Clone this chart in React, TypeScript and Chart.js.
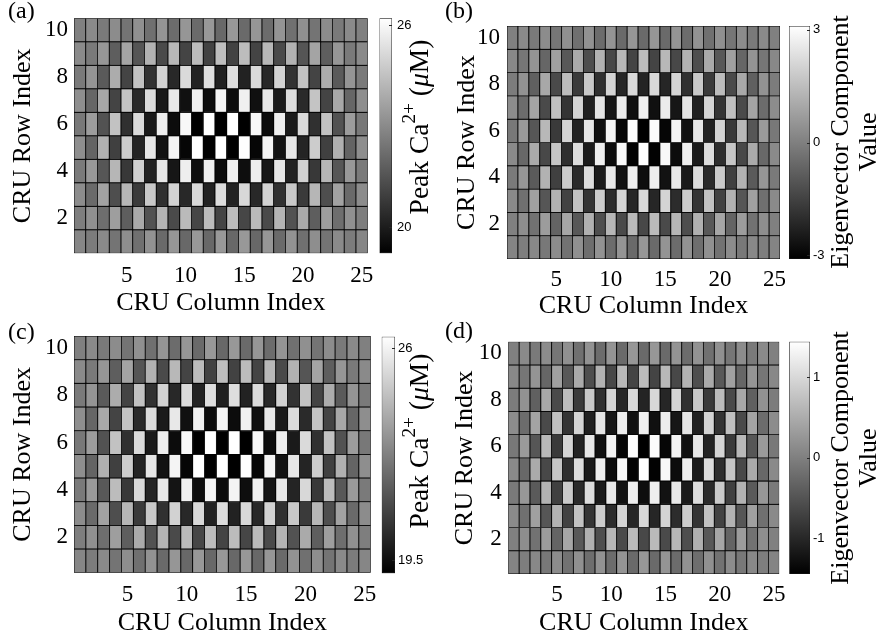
import React, { useEffect, useRef } from 'react';
import { Chart, registerables } from 'chart.js';

Chart.register(...registerables);

const SERIF = '"Liberation Serif", "Times New Roman", serif';
const SANS = '"Liberation Sans", Arial, sans-serif';

// ---------- data ----------
const columnIndex = [1, 2, 3, 4, 5, 6, 7, 8, 9, 10, 11, 12, 13, 14, 15, 16, 17, 18, 19, 20, 21, 22, 23, 24, 25];
const rowIndex = [10, 9, 8, 7, 6, 5, 4, 3, 2, 1];
const columnTicks = [5, 10, 15, 20, 25];
const rowTicks = [2, 4, 6, 8, 10];
const columnAxisTitle = 'CRU Column Index';
const rowAxisTitle = 'CRU Row Index';

// (a) Peak Ca2+ (uM), rows listed from row 10 (top) down to row 1
const peakCaA: number[][] = [
  [22.73, 23.00, 22.56, 23.06, 22.40, 23.17, 22.29, 23.27, 22.18, 23.33, 22.13, 23.38, 22.07, 23.38, 22.13, 23.33, 22.18, 23.27, 22.29, 23.17, 22.40, 23.06, 22.56, 23.00, 22.73],
  [23.00, 22.56, 23.33, 21.80, 23.71, 21.55, 24.09, 21.25, 24.26, 21.09, 24.37, 21.03, 24.42, 21.03, 24.37, 21.09, 24.26, 21.25, 24.09, 21.55, 23.71, 21.80, 23.33, 22.56, 23.00],
  [22.56, 23.27, 21.69, 23.93, 21.09, 24.53, 20.60, 24.97, 20.32, 25.19, 20.16, 25.30, 20.10, 25.30, 20.16, 25.19, 20.32, 24.97, 20.60, 24.53, 21.09, 23.93, 21.69, 23.27, 22.56],
  [23.11, 22.02, 23.82, 21.09, 24.59, 20.38, 25.24, 19.94, 25.57, 19.67, 25.79, 19.56, 25.90, 19.56, 25.79, 19.67, 25.57, 19.94, 25.24, 20.38, 24.59, 21.09, 23.82, 22.02, 23.11],
  [22.51, 23.49, 21.47, 24.53, 20.54, 25.19, 19.94, 25.74, 19.56, 26.01, 19.23, 26.20, 19.23, 26.20, 19.23, 26.01, 19.56, 25.74, 19.94, 25.19, 20.54, 24.53, 21.47, 23.49, 22.51],
  [23.11, 21.96, 24.04, 20.98, 24.81, 20.21, 25.52, 19.72, 25.90, 19.39, 26.17, 19.23, 26.20, 19.23, 26.17, 19.39, 25.90, 19.72, 25.52, 20.21, 24.81, 20.98, 24.04, 21.96, 23.11],
  [22.56, 23.38, 21.58, 24.20, 20.76, 24.91, 20.16, 25.52, 19.83, 25.74, 19.61, 25.79, 19.56, 25.79, 19.61, 25.74, 19.83, 25.52, 20.16, 24.91, 20.76, 24.20, 21.58, 23.38, 22.56],
  [23.06, 22.13, 23.66, 21.36, 24.20, 20.82, 24.70, 20.54, 24.97, 20.32, 25.13, 20.16, 25.24, 20.16, 25.13, 20.32, 24.97, 20.54, 24.70, 20.82, 24.20, 21.36, 23.66, 22.13, 23.06],
  [22.67, 23.17, 22.24, 23.55, 21.80, 23.88, 21.47, 24.15, 21.25, 24.31, 21.14, 24.37, 21.09, 24.37, 21.14, 24.31, 21.25, 24.15, 21.47, 23.88, 21.80, 23.55, 22.24, 23.17, 22.67],
  [22.89, 22.62, 23.00, 22.40, 23.11, 22.29, 23.22, 22.13, 23.33, 22.07, 23.38, 22.07, 23.38, 22.07, 23.38, 22.07, 23.33, 22.13, 23.22, 22.29, 23.11, 22.40, 23.00, 22.62, 22.89],
];

// (b) eigenvector component values
const eigenB: number[][] = [
  [0.01, 0.26, -0.13, 0.30, -0.23, 0.40, -0.38, 0.45, -0.47, 0.50, -0.52, 0.55, -0.52, 0.55, -0.52, 0.50, -0.47, 0.45, -0.38, 0.40, -0.23, 0.30, -0.13, 0.26, 0.01],
  [0.21, -0.23, 0.50, -0.62, 0.79, -0.96, 1.03, -1.20, 1.23, -1.35, 1.37, -1.45, 1.47, -1.45, 1.37, -1.35, 1.23, -1.20, 1.03, -0.96, 0.79, -0.62, 0.50, -0.23, 0.21],
  [-0.09, 0.45, -0.77, 0.98, -1.30, 1.47, -1.69, 1.76, -1.93, 2.05, -2.18, 2.15, -2.22, 2.15, -2.18, 2.05, -1.93, 1.76, -1.69, 1.47, -1.30, 0.98, -0.77, 0.45, -0.09],
  [0.30, -0.47, 0.89, -1.30, 1.57, -1.84, 2.05, -2.32, 2.44, -2.57, 2.64, -2.71, 2.74, -2.71, 2.64, -2.57, 2.44, -2.32, 2.05, -1.84, 1.57, -1.30, 0.89, -0.47, 0.30],
  [-0.18, 0.64, -1.01, 1.37, -1.69, 2.05, -2.27, 2.49, -2.71, 2.83, -2.95, 3.03, -3.10, 3.03, -2.95, 2.83, -2.71, 2.49, -2.27, 2.05, -1.69, 1.37, -1.01, 0.64, -0.18],
  [0.26, -0.57, 1.03, -1.35, 1.71, -1.98, 2.25, -2.47, 2.69, -2.81, 2.93, -3.05, 3.10, -3.05, 2.93, -2.81, 2.69, -2.47, 2.25, -1.98, 1.71, -1.35, 1.03, -0.57, 0.26],
  [-0.13, 0.55, -0.91, 1.23, -1.54, 1.81, -2.08, 2.25, -2.47, 2.54, -2.66, 2.69, -2.76, 2.69, -2.66, 2.54, -2.47, 2.25, -2.08, 1.81, -1.54, 1.23, -0.91, 0.55, -0.13],
  [0.26, -0.38, 0.79, -1.01, 1.23, -1.50, 1.62, -1.84, 1.86, -2.03, 2.05, -2.18, 2.15, -2.18, 2.05, -2.03, 1.86, -1.84, 1.62, -1.50, 1.23, -1.01, 0.79, -0.38, 0.26],
  [0.01, 0.35, -0.33, 0.69, -0.67, 0.94, -0.96, 1.18, -1.20, 1.33, -1.30, 1.42, -1.35, 1.42, -1.30, 1.33, -1.20, 1.18, -0.96, 0.94, -0.67, 0.69, -0.33, 0.35, 0.01],
  [0.11, -0.04, 0.21, -0.18, 0.30, -0.33, 0.40, -0.43, 0.45, -0.47, 0.50, -0.52, 0.55, -0.52, 0.50, -0.47, 0.45, -0.43, 0.40, -0.33, 0.30, -0.18, 0.21, -0.04, 0.11],
];

// (c) Peak Ca2+ (uM)
const peakCaC: number[][] = [
  [22.74, 23.02, 22.57, 23.08, 22.40, 23.20, 22.28, 23.31, 22.17, 23.37, 22.11, 23.42, 22.06, 23.42, 22.11, 23.37, 22.17, 23.31, 22.28, 23.20, 22.40, 23.08, 22.57, 23.02, 22.74],
  [23.02, 22.57, 23.37, 21.77, 23.77, 21.51, 24.16, 21.20, 24.34, 21.03, 24.45, 20.97, 24.51, 20.97, 24.45, 21.03, 24.34, 21.20, 24.16, 21.51, 23.77, 21.77, 23.37, 22.57, 23.02],
  [22.57, 23.31, 21.66, 23.99, 21.03, 24.62, 20.52, 25.08, 20.23, 25.31, 20.06, 25.42, 20.00, 25.42, 20.06, 25.31, 20.23, 25.08, 20.52, 24.62, 21.03, 23.99, 21.66, 23.31, 22.57],
  [23.14, 22.00, 23.88, 21.03, 24.68, 20.29, 25.36, 19.83, 25.70, 19.55, 25.93, 19.43, 26.05, 19.43, 25.93, 19.55, 25.70, 19.83, 25.36, 20.29, 24.68, 21.03, 23.88, 22.00, 23.14],
  [22.51, 23.54, 21.43, 24.62, 20.46, 25.31, 19.83, 25.88, 19.43, 26.16, 19.09, 26.36, 19.09, 26.36, 19.09, 26.16, 19.43, 25.88, 19.83, 25.31, 20.46, 24.62, 21.43, 23.54, 22.51],
  [23.14, 21.94, 24.11, 20.91, 24.91, 20.12, 25.65, 19.60, 26.05, 19.26, 26.33, 19.09, 26.36, 19.09, 26.33, 19.26, 26.05, 19.60, 25.65, 20.12, 24.91, 20.91, 24.11, 21.94, 23.14],
  [22.57, 23.48, 21.60, 24.45, 20.69, 25.25, 20.12, 25.70, 19.66, 25.93, 19.49, 26.05, 19.38, 26.05, 19.49, 25.93, 19.66, 25.70, 20.12, 25.25, 20.69, 24.45, 21.60, 23.48, 22.57],
  [23.08, 22.11, 23.71, 21.31, 24.28, 20.74, 24.79, 20.46, 25.08, 20.23, 25.25, 20.06, 25.36, 20.06, 25.25, 20.23, 25.08, 20.46, 24.79, 20.74, 24.28, 21.31, 23.71, 22.11, 23.08],
  [22.68, 23.20, 22.23, 23.59, 21.77, 23.94, 21.43, 24.22, 21.20, 24.39, 21.09, 24.45, 21.03, 24.45, 21.09, 24.39, 21.20, 24.22, 21.43, 23.94, 21.77, 23.59, 22.23, 23.20, 22.68],
  [22.91, 22.63, 23.02, 22.40, 23.14, 22.28, 23.25, 22.11, 23.37, 22.06, 23.42, 22.06, 23.42, 22.06, 23.42, 22.06, 23.37, 22.11, 23.25, 22.28, 23.14, 22.40, 23.02, 22.63, 22.91],
];

// (d) eigenvector component values
const eigenD: number[][] = [
  [0.00, 0.12, -0.06, 0.14, -0.11, 0.19, -0.18, 0.21, -0.22, 0.23, -0.24, 0.26, -0.24, 0.26, -0.24, 0.23, -0.22, 0.21, -0.18, 0.19, -0.11, 0.14, -0.06, 0.12, 0.00],
  [0.10, -0.11, 0.23, -0.29, 0.37, -0.45, 0.48, -0.56, 0.57, -0.63, 0.64, -0.67, 0.68, -0.67, 0.64, -0.63, 0.57, -0.56, 0.48, -0.45, 0.37, -0.29, 0.23, -0.11, 0.10],
  [-0.04, 0.21, -0.36, 0.46, -0.60, 0.68, -0.79, 0.82, -0.90, 0.95, -1.01, 1.00, -1.03, 1.00, -1.01, 0.95, -0.90, 0.82, -0.79, 0.68, -0.60, 0.46, -0.36, 0.21, -0.04],
  [0.14, -0.22, 0.41, -0.60, 0.73, -0.85, 0.95, -1.08, 1.13, -1.19, 1.23, -1.26, 1.27, -1.26, 1.23, -1.19, 1.13, -1.08, 0.95, -0.85, 0.73, -0.60, 0.41, -0.22, 0.14],
  [-0.08, 0.30, -0.47, 0.64, -0.79, 0.95, -1.05, 1.16, -1.26, 1.31, -1.37, 1.41, -1.44, 1.41, -1.37, 1.31, -1.26, 1.16, -1.05, 0.95, -0.79, 0.64, -0.47, 0.30, -0.08],
  [0.12, -0.26, 0.48, -0.63, 0.79, -0.92, 1.05, -1.15, 1.25, -1.31, 1.36, -1.42, 1.44, -1.42, 1.36, -1.31, 1.25, -1.15, 1.05, -0.92, 0.79, -0.63, 0.48, -0.26, 0.12],
  [-0.06, 0.26, -0.42, 0.57, -0.72, 0.84, -0.97, 1.05, -1.15, 1.18, -1.24, 1.25, -1.28, 1.25, -1.24, 1.18, -1.15, 1.05, -0.97, 0.84, -0.72, 0.57, -0.42, 0.26, -0.06],
  [0.12, -0.18, 0.37, -0.47, 0.57, -0.70, 0.75, -0.85, 0.86, -0.94, 0.95, -1.01, 1.00, -1.01, 0.95, -0.94, 0.86, -0.85, 0.75, -0.70, 0.57, -0.47, 0.37, -0.18, 0.12],
  [0.00, 0.16, -0.15, 0.32, -0.31, 0.44, -0.45, 0.55, -0.56, 0.62, -0.60, 0.66, -0.63, 0.66, -0.60, 0.62, -0.56, 0.55, -0.45, 0.44, -0.31, 0.32, -0.15, 0.16, 0.00],
  [0.05, -0.02, 0.10, -0.08, 0.14, -0.15, 0.19, -0.20, 0.21, -0.22, 0.23, -0.24, 0.26, -0.24, 0.23, -0.22, 0.21, -0.20, 0.19, -0.15, 0.14, -0.08, 0.10, -0.02, 0.05],
];

const colorbarTicksA = [20, 26];
const colorbarTicksB = [-3, 0, 3];
const colorbarTicksC = [19.5, 26];
const colorbarTicksD = [-1, 0, 1];

type Seg = { text: string; sup?: boolean; italic?: boolean };
const peakCaLabel: Seg[][] = [[{ text: 'Peak Ca' }, { text: '2+', sup: true }, { text: ' (' }, { text: 'μ', italic: true }, { text: 'M)' }]];
const eigenLabel: Seg[][] = [[{ text: 'Eigenvector Component' }], [{ text: 'Value' }]];

// ---------- layout (absolute page pixels) ----------
const panels = [
  {
    id: 'a', letter: '(a)', values: peakCaA, cbTicks: colorbarTicksA, cbLabel: peakCaLabel, cbLabelSize: 27.5,
    heat: { x: 0, y: 0, w: 378, h: 320 }, padLeft: 8, plot: { l: 74, r: 367.7, t: 18.3, b: 253.3 }, letterMid: 12,
    yTickPad: 6, yTitlePad: 2, xTickPad: 8.4, xTitlePad: 4,
    cb: { x: 375, y: 0, w: 65, h: 320 }, cbPlot: { l: 379.5, r: 392, t: 18.3, b: 253.3 }, cbTickPad: 5, cbLabelX: [421], cbLabelY: 127,
  },
  {
    id: 'b', letter: '(b)', values: eigenB, cbTicks: colorbarTicksB, cbLabel: eigenLabel, cbLabelSize: 26,
    heat: { x: 440, y: 0, w: 345, h: 330 }, padLeft: 5, plot: { l: 507, r: 780, t: 26, b: 259 }, letterMid: 12,
    yTickPad: 7, yTitlePad: 9, xTickPad: 7.2, xTitlePad: 11,
    cb: { x: 785, y: 0, w: 94, h: 330 }, cbPlot: { l: 789, r: 810, t: 26, b: 259 }, cbTickPad: 3, cbLabelX: [841, 869], cbLabelY: 142,
  },
  {
    id: 'c', letter: '(c)', values: peakCaC, cbTicks: colorbarTicksC, cbLabel: peakCaLabel, cbLabelSize: 27.5,
    heat: { x: 0, y: 320, w: 378, h: 323 }, padLeft: 8, plot: { l: 74, r: 370.7, t: 336, b: 572.7 }, letterMid: 333,
    yTickPad: 6, yTitlePad: 2, xTickPad: 8.5, xTitlePad: 7,
    cb: { x: 375, y: 320, w: 65, h: 323 }, cbPlot: { l: 381.7, r: 395, t: 336.7, b: 573.3 }, cbTickPad: 3, cbLabelX: [421], cbLabelY: 441,
  },
  {
    id: 'd', letter: '(d)', values: eigenD, cbTicks: colorbarTicksD, cbLabel: eigenLabel, cbLabelSize: 26,
    heat: { x: 440, y: 320, w: 345, h: 323 }, padLeft: 5, plot: { l: 508.3, r: 779.3, t: 341.7, b: 574 }, letterMid: 332,
    yTickPad: 6.6, yTitlePad: 7, xTickPad: 7.2, xTitlePad: 7,
    cb: { x: 785, y: 320, w: 94, h: 323 }, cbPlot: { l: 789.3, r: 810, t: 341.7, b: 574 }, cbTickPad: 3, cbLabelX: [841, 869], cbLabelY: 458,
  },
];

function valueRange(values: number[][]) {
  const flat = values.flat();
  return { vmin: Math.min(...flat), vmax: Math.max(...flat) };
}

function heatmapConfig(p: any): any {
  const { vmin, vmax } = valueRange(p.values);
  const gray = (v: number) => {
    const g = Math.round((255 * (v - vmin)) / (vmax - vmin));
    return `rgb(${g},${g},${g})`;
  };
  const W = p.heat.w;
  const H = p.heat.h;
  const L = p.plot.l - p.heat.x;
  const R = p.plot.r - p.heat.x;
  const T = p.plot.t - p.heat.y;
  const B = p.plot.b - p.heat.y;
  const mid = p.letterMid - p.heat.y;
  let lh = 2 * (T - mid);
  let pt = 2 * mid - T;
  let pb = 0;
  if (pt < 0) {
    pt = 0;
    lh = 2 * mid;
    pb = T - lh;
  }
  return {
    type: 'bar',
    data: {
      datasets: p.values.map((row: number[], i: number) => ({
        data: row.map((_v: number, j: number) => ({ x: columnIndex[j], y: [rowIndex[i] - 0.5, rowIndex[i] + 0.5] })),
        backgroundColor: row.map(gray),
        borderColor: '#000',
        borderWidth: 0.8,
        borderSkipped: false,
        grouped: false,
        barPercentage: 1,
        categoryPercentage: 1,
      })),
    },
    options: {
      animation: false,
      responsive: false,
      maintainAspectRatio: false,
      events: [],
      layout: { padding: { left: p.padLeft, right: W - R, top: 0, bottom: 0 } },
      plugins: {
        legend: { display: false },
        tooltip: { enabled: false },
        title: {
          display: true,
          text: p.letter,
          align: 'start',
          color: '#000',
          font: { family: SERIF, size: 24, weight: 'normal', lineHeight: `${lh.toFixed(2)}px` },
          padding: { top: Number(pt.toFixed(2)), bottom: Number(pb.toFixed(2)) },
        },
      },
      scales: {
        x: {
          type: 'linear',
          min: 0.5,
          max: 25.5,
          offset: false,
          grid: { display: false, drawTicks: false },
          border: { display: false },
          afterBuildTicks: (s: any) => {
            s.ticks = columnTicks.map((v) => ({ value: v }));
          },
          afterFit: (s: any) => {
            s.height = H - B;
            s.paddingLeft = 0;
            s.paddingRight = 0;
          },
          ticks: {
            color: '#000',
            autoSkip: false,
            maxRotation: 0,
            padding: p.xTickPad,
            font: { family: SERIF, size: 23 },
            callback: (v: any) => String(v),
          },
          title: {
            display: true,
            text: columnAxisTitle,
            color: '#000',
            font: { family: SERIF, size: 26, lineHeight: 1 },
            padding: { top: 0, bottom: p.xTitlePad },
          },
        },
        y: {
          type: 'linear',
          min: 0.5,
          max: 10.5,
          beginAtZero: false,
          grid: { display: false, drawTicks: false },
          border: { display: false },
          afterBuildTicks: (s: any) => {
            s.ticks = rowTicks.map((v) => ({ value: v }));
          },
          afterFit: (s: any) => {
            s.width = L - p.padLeft;
            s.paddingTop = 0;
            s.paddingBottom = 0;
          },
          ticks: {
            color: '#000',
            autoSkip: false,
            padding: p.yTickPad,
            font: { family: SERIF, size: 23 },
            callback: (v: any) => String(v),
          },
          title: {
            display: true,
            text: rowAxisTitle,
            color: '#000',
            font: { family: SERIF, size: 26, lineHeight: 1 },
            padding: { top: p.yTitlePad, bottom: 0 },
          },
        },
      },
    },
  };
}

function makeLabelPlugin(p: any) {
  return {
    id: 'cbLabel' + p.id,
    afterDraw(chart: any) {
      const ctx = chart.ctx;
      const size = p.cbLabelSize;
      const ys = chart.scales.y;
      const area = chart.chartArea;
      ctx.save();
      // small inward tick marks on the colorbar's right edge
      ctx.strokeStyle = '#262626';
      ctx.lineWidth = 1;
      p.cbTicks.forEach((v: number) => {
        const y = Math.round(ys.getPixelForValue(v)) + 0.5;
        ctx.beginPath();
        ctx.moveTo(area.right - 3, y);
        ctx.lineTo(area.right, y);
        ctx.stroke();
      });
      ctx.fillStyle = '#000';
      ctx.textBaseline = 'middle';
      ctx.textAlign = 'left';
      p.cbLabel.forEach((line: Seg[], i: number) => {
        const parts = line.map((seg) => {
          const fs = seg.sup ? size * 0.7 : size;
          const font = `${seg.italic ? 'italic ' : ''}${fs}px ${SERIF}`;
          ctx.font = font;
          return { seg, font, w: ctx.measureText(seg.text).width };
        });
        const total = parts.reduce((a, q) => a + q.w, 0);
        ctx.save();
        ctx.translate(p.cbLabelX[i] - p.cb.x, p.cbLabelY - p.cb.y);
        ctx.rotate(-Math.PI / 2);
        let x = -total / 2;
        parts.forEach((q) => {
          ctx.font = q.font;
          ctx.fillText(q.seg.text, x, q.seg.sup ? -size * 0.4 : 0);
          x += q.w;
        });
        ctx.restore();
      });
      ctx.restore();
    },
  };
}

function colorbarConfig(p: any): any {
  const { vmin, vmax } = valueRange(p.values);
  const W = p.cb.w;
  const H = p.cb.h;
  const L = p.cbPlot.l - p.cb.x;
  const R = p.cbPlot.r - p.cb.x;
  const T = p.cbPlot.t - p.cb.y;
  const B = p.cbPlot.b - p.cb.y;
  return {
    type: 'bar',
    data: {
      labels: [''],
      datasets: [
        {
          data: [[vmin, vmax]],
          backgroundColor: (ctx: any) => {
            const chart = ctx.chart;
            const ys = chart.scales && chart.scales.y;
            if (!chart.chartArea || !ys) return '#808080';
            const g = chart.ctx.createLinearGradient(0, ys.getPixelForValue(vmin), 0, ys.getPixelForValue(vmax));
            g.addColorStop(0, '#000000');
            g.addColorStop(1, '#ffffff');
            return g;
          },
          borderColor: '#1a1a1a',
          borderWidth: 0.8,
          borderSkipped: false,
          barPercentage: 1,
          categoryPercentage: 1,
        },
      ],
    },
    options: {
      animation: false,
      responsive: false,
      maintainAspectRatio: false,
      events: [],
      layout: { padding: { left: L, right: 0, top: T, bottom: H - B } },
      plugins: { legend: { display: false }, tooltip: { enabled: false } },
      scales: {
        x: { display: false },
        y: {
          position: 'right',
          min: vmin,
          max: vmax,
          beginAtZero: false,
          grid: { display: false, drawTicks: false },
          border: { display: false },
          afterBuildTicks: (s: any) => {
            s.ticks = p.cbTicks.map((v: number) => ({ value: v }));
          },
          afterFit: (s: any) => {
            s.width = W - R;
            s.paddingTop = 0;
            s.paddingBottom = 0;
          },
          ticks: {
            color: '#000',
            autoSkip: false,
            padding: p.cbTickPad,
            font: { family: SANS, size: 13 },
            callback: (v: any) => String(v),
          },
        },
      },
    },
    plugins: [makeLabelPlugin(p)],
  };
}

function Panel({ spec }: { spec: any }) {
  const heatRef = useRef<HTMLCanvasElement>(null);
  const cbRef = useRef<HTMLCanvasElement>(null);
  useEffect(() => {
    const h = new Chart(heatRef.current as any, heatmapConfig(spec));
    const c = new Chart(cbRef.current as any, colorbarConfig(spec));
    return () => {
      h.destroy();
      c.destroy();
    };
  }, [spec]);
  return (
    <>
      <canvas
        ref={heatRef}
        width={spec.heat.w}
        height={spec.heat.h}
        style={{ position: 'absolute', left: spec.heat.x, top: spec.heat.y, width: spec.heat.w, height: spec.heat.h }}
      />
      <canvas
        ref={cbRef}
        width={spec.cb.w}
        height={spec.cb.h}
        style={{ position: 'absolute', left: spec.cb.x, top: spec.cb.y, width: spec.cb.w, height: spec.cb.h }}
      />
    </>
  );
}

export default function App() {
  return (
    <div style={{ position: 'absolute', left: 0, top: 0, width: 879, height: 643, background: '#fff', overflow: 'hidden' }}>
      {panels.map((p) => (
        <Panel key={p.id} spec={p} />
      ))}
    </div>
  );
}
